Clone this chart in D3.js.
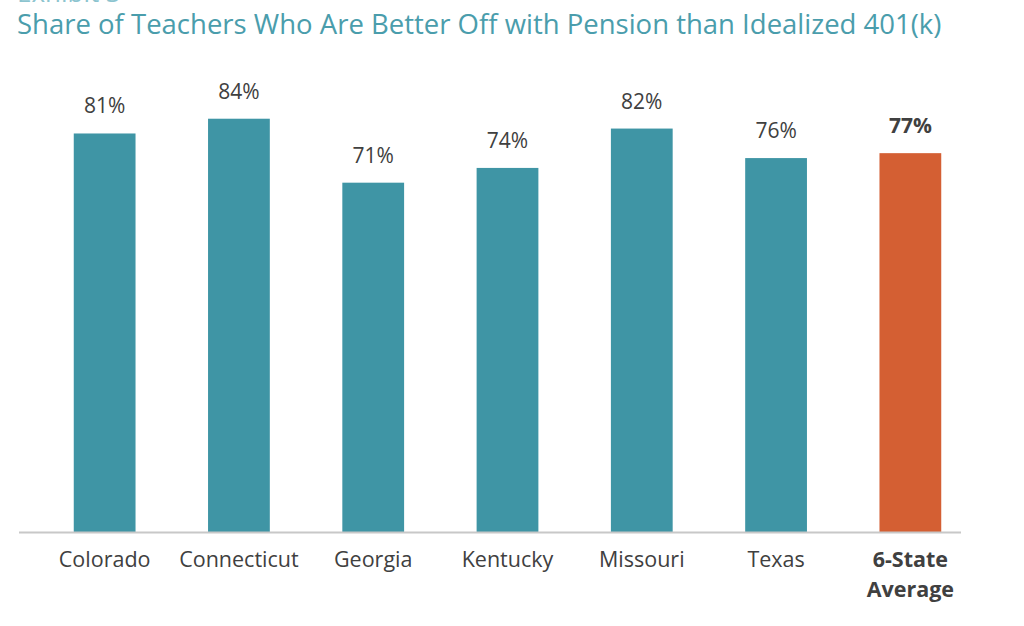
<!DOCTYPE html>
<html>
<head>
<meta charset="utf-8">
<script src="https://cdn.jsdelivr.net/npm/d3@7"></script>
<style>
  html, body { margin: 0; padding: 0; background: #ffffff; }
  svg { display: block; font-family: "Open Sans", "Noto Sans", sans-serif; }
  svg text { font-family: "Open Sans", "Noto Sans", sans-serif; }
</style>
</head>
<body>
<svg id="chart" width="1024" height="626"></svg>
<script>
const categories = ["Colorado", "Connecticut", "Georgia", "Kentucky", "Missouri", "Texas", "6-State Average"];
const values = [81, 84, 71, 74, 82, 76, 77];
const highlight = [false, false, false, false, false, false, true];
const titleText = "Share of Teachers Who Are Better Off with Pension than Idealized 401(k)";
const exhibitText = "Exhibit 3";

const svg = d3.select("#chart");

const x = d3.scaleBand()
  .domain(categories)
  .range([37.5, 977.5])
  .paddingInner(0.54)
  .paddingOuter(0.27);

const y = d3.scaleLinear().domain([0, 100]).range([532, 40]);

// cut-off exhibit label
svg.append("text")
  .attr("x", 17).attr("y", 2)
  .attr("fill", "#8cc4cf")
  .attr("font-size", 26)
  .text(exhibitText);

// title
svg.append("text")
  .attr("x", 17).attr("y", 34)
  .attr("fill", "#4a9dac")
  .attr("font-size", 27.5)
  .text(titleText);

// bars
svg.append("g").selectAll("rect")
  .data(categories)
  .join("rect")
  .attr("x", d => x(d))
  .attr("width", x.bandwidth())
  .attr("y", (d, i) => y(values[i]))
  .attr("height", (d, i) => y(0) - y(values[i]))
  .attr("fill", (d, i) => highlight[i] ? "#d45f33" : "#3f95a5");

// value labels
svg.append("g").selectAll("text")
  .data(categories)
  .join("text")
  .attr("x", d => x(d) + x.bandwidth() / 2)
  .attr("y", (d, i) => y(values[i]) - 20)
  .attr("text-anchor", "middle")
  .attr("font-size", 21)
  .attr("font-weight", (d, i) => highlight[i] ? 700 : 400)
  .attr("fill", "#404040")
  .text((d, i) => values[i] + "%");

// axis
const axis = d3.axisBottom(x).tickSize(0).tickPadding(0).tickFormat(() => "");
const gAxis = svg.append("g").attr("transform", `translate(0,${y(0)})`).call(axis);
gAxis.attr("font-family", null).attr("font-size", null);
gAxis.select(".domain").remove();
gAxis.append("line")
  .attr("x1", 19).attr("x2", 961)
  .attr("y1", 0.5).attr("y2", 0.5)
  .attr("stroke", "#c8c8c8").attr("stroke-width", 2);

gAxis.selectAll(".tick").each(function(d, i) {
  const t = d3.select(this).append("text")
    .attr("text-anchor", "middle")
    .attr("fill", "#404040")
    .attr("font-size", 21.5)
    .attr("font-weight", highlight[i] ? 700 : 400);
  const words = highlight[i] ? ["6-State", "Average"] : [d];
  words.forEach((w, k) => {
    t.append("tspan").attr("x", 0).attr("y", 35 + k * 30).text(w);
  });
});
</script>
</body>
</html>
